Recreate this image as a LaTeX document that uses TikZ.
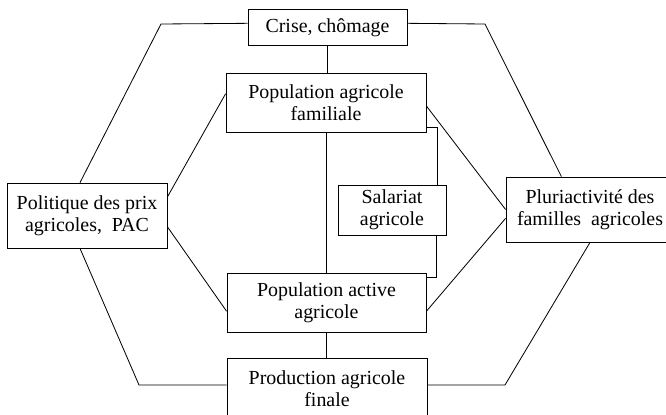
\documentclass[tikz,border=0pt]{standalone}
\usepackage{fontspec}
\setmainfont{Liberation Serif}
\usetikzlibrary{shapes,arrows}
\tikzstyle{block} = [draw, rectangle, align=center, inner sep=0pt, font=\fontsize{17}{19}\selectfont]

\begin{document}
\begin{tikzpicture}[x=0.03cm,y=-0.03cm,line width=0.7pt]
	\useasboundingbox (0,0) rectangle (666,414);
	% put the boxes where they sit in the scheme
	\node [block,minimum width=4.77cm,minimum height=1.1cm] (crise) at (327.5,27.5) {Crise, chômage};
	\node [block,minimum width=6cm,minimum height=1.77cm] (popfam) at (326,102.5) {Population agricole\\familiale};
	\node [block,minimum width=3.24cm,minimum height=1.5cm] (salariat) at (392,210) {Salariat\\agricole};
	\node [block,minimum width=5.97cm,minimum height=1.77cm] (popact) at (326.5,302.5) {Population active\\agricole};
	\node [block,minimum width=6cm,minimum height=1.86cm] (prod) at (327,389) {Production agricole\\finale};
	\node [block,minimum width=4.8cm,minimum height=1.95cm] (politique) at (87,215.5) {Politique des prix\\agricoles,\ \ PAC};
	\node [block,minimum width=5.04cm,minimum height=1.95cm] (pluri) at (590,209.5) {Pluriactivité des\\familles\ \ agricoles};

	% corners of the outer hexagon
	\coordinate (tl) at (161,24);
	\coordinate (tr) at (485,24);
	\coordinate (bl) at (139,385);
	\coordinate (br) at (505,385);
	% corners of the salariat loop
	\coordinate (sa) at (437,127);
	\coordinate (sb) at (436,277);

	% the central column
	\draw (crise.south) -- (crise.south |- popfam.north);
	\draw (popfam.south) -- (popfam.south |- popact.north);
	\draw (popact.south) -- (popact.south |- prod.north);

	% outer hexagon
	\draw (crise.177) -- (tl) -- (politique.102);
	\draw (crise.3) -- (tr) -- (pluri.131);
	\draw (politique.258) -- (bl) -- (bl -| prod.west);
	\draw (pluri.south) -- (br) -- (br -| prod.east);

	% inner links
	\draw (politique.13) -- (popfam.175);
	\draw (politique.352) -- (popact.185);
	\draw (popfam.358) -- (pluri.west);
	\draw (popact.355) -- (pluri.186);

	% salariat loop
	\draw (sa -| popfam.east) -- (sa) -- (sa |- salariat.north);
	\draw (sb |- salariat.south) -- (sb) -- (sb -| popact.east);
\end{tikzpicture}
\end{document}
